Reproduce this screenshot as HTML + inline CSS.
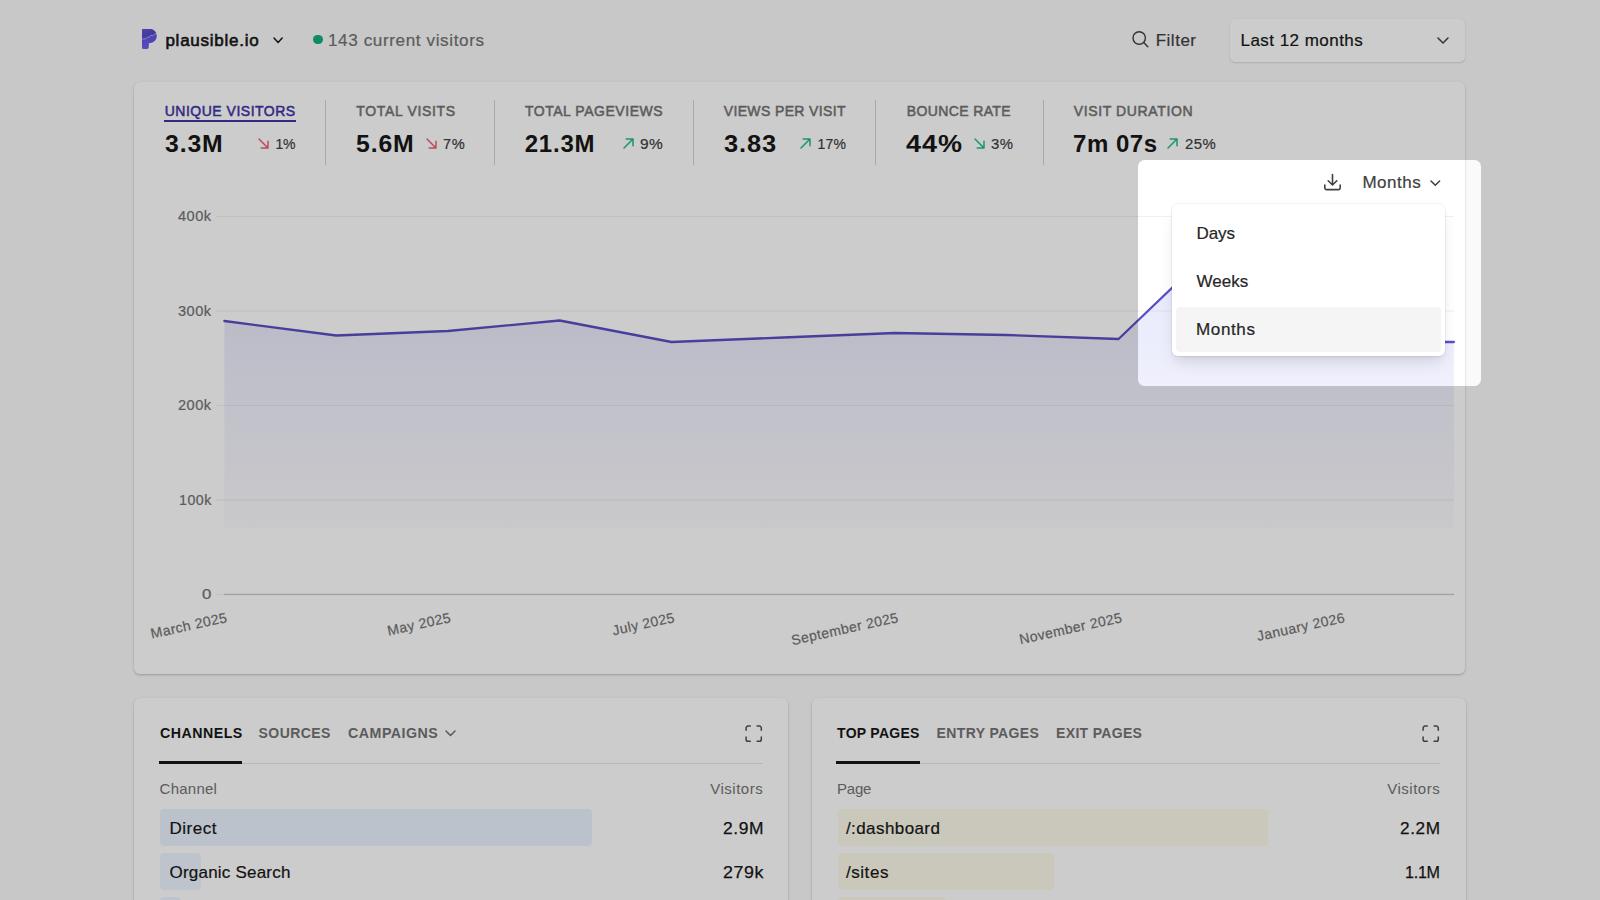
<!DOCTYPE html>
<html lang="en">
<head>
<meta charset="utf-8">
<title>plausible.io · Plausible Analytics</title>
<style>
*{box-sizing:border-box;margin:0;padding:0}
html,body{width:1600px;height:900px;overflow:hidden}
body{background:#fafafa;font-family:"Liberation Sans", Arial, sans-serif;color:#171717;position:relative}
.t{position:absolute;white-space:pre;line-height:1}
.r,.i{position:absolute;display:block}
.i{overflow:visible}
.card{position:absolute;background:#fff;border-radius:6px;box-shadow:0 1px 3px rgba(0,0,0,.13),0 1px 2px rgba(0,0,0,.12)}
.xl{transform-origin:100% 50%;transform:rotate(-12.3deg)}
.spot{position:absolute;left:1137.600px;top:160px;width:343.600px;height:225.500px;border-radius:6.500px;box-shadow:0 0 0 3000px rgba(0,0,0,.2);pointer-events:none}
</style>
</head>
<body>
<svg class="i" style="left:141px;top:28px" width="17" height="22" viewBox="0 0 17 22"><defs><linearGradient id="lg1" x1="0" y1="0" x2="0" y2="1"><stop offset="0" stop-color="#5b4dd2"/><stop offset="1" stop-color="#6e5ff0"/></linearGradient>
<linearGradient id="lg2" x1="0" y1="0" x2="1" y2="1"><stop offset="0" stop-color="#6255d6"/><stop offset="1" stop-color="#4a3eb6"/></linearGradient>
<clipPath id="pc"><path d="M2.300 1H8.700a7.100 7.100 0 0 1 0 14.200H7.800v3.200A2.600 2.600 0 0 1 5.200 21H2.300A1.300 1.300 0 0 1 1 19.700V2.300A1.300 1.300 0 0 1 2.300 1z"/></clipPath></defs>
<path d="M2.300 1H8.700a7.100 7.100 0 0 1 0 14.200H7.800v3.200A2.600 2.600 0 0 1 5.200 21H2.300A1.300 1.300 0 0 1 1 19.700V2.300A1.300 1.300 0 0 1 2.300 1z" fill="url(#lg1)"/>
<g clip-path="url(#pc)"><path d="M0 0H17V4.200L15.500 4.800 13.500 6.400 11.500 7.700 9.700 7.400 8 9.400 6.400 9.200 4.600 10.900 2.600 10.600 0 12.200z" fill="url(#lg2)"/>
<path d="M0 12.200L2.600 10.600 4.600 10.900 6.400 9.200 8 9.400 9.700 7.400 11.500 7.700 13.500 6.400 15.500 4.800 17 4.200" fill="none" stroke="#b3adf5" stroke-width="1" stroke-linejoin="round"/></g></svg>
<div class="t" style="left:165.39px;top:31.91px;font-size:17px;color:#171717;letter-spacing:0.760px;-webkit-text-stroke:0.6px #171717;">plausible.io</div>
<svg class="i" style="left:272.4px;top:35.9px" width="12.2" height="8.5" viewBox="0 0 12.2 8.5"><path d="M2 2l4.1 4.5 4.1-4.5" fill="none" stroke="#171717" stroke-width="1.5" stroke-linecap="round" stroke-linejoin="round"/></svg>
<div class="r" style="left:313.2px;top:34.9px;width:9.4px;height:9.4px;background:#12b17c;border-radius:50%"></div>
<div class="t" style="left:327.79px;top:31.91px;font-size:17px;color:#737373;letter-spacing:0.595px;transform:scaleX(1.0070);transform-origin:0 50%;-webkit-text-stroke:0.2px #737373;">143 current visitors</div>
<svg class="i" style="left:1131px;top:30px" width="18" height="18" viewBox="0 0 18 18"><circle cx="8.200" cy="8" r="6.200" fill="none" stroke="#404040" stroke-width="1.400"/><path d="M12.700 12.500L16.800 16.700" stroke="#404040" stroke-width="1.400" stroke-linecap="round"/></svg>
<div class="t" style="left:1155.69px;top:31.91px;font-size:17px;color:#404040;letter-spacing:0.508px;-webkit-text-stroke:0.2px #404040;">Filter</div>
<div class="card" style="left:1229.500px;top:18.500px;width:235.500px;height:43px;border-radius:5px;box-shadow:0 1px 2px rgba(0,0,0,.13),0 0 1px rgba(0,0,0,.08)"></div>
<div class="t" style="left:1240.49px;top:31.91px;font-size:17px;color:#171717;letter-spacing:0.467px;-webkit-text-stroke:0.2px #171717;">Last 12 months</div>
<svg class="i" style="left:1436px;top:35.5px" width="14" height="9" viewBox="0 0 14 9"><path d="M2 2l5 5 5-5" fill="none" stroke="#404040" stroke-width="1.5" stroke-linecap="round" stroke-linejoin="round"/></svg>
<div class="card" style="left:134.400px;top:82px;width:1331.100px;height:591.500px"></div>
<div class="r" style="left:325.0px;top:100px;width:1px;height:65px;background:#d4d4d4;"></div>
<div class="r" style="left:493.5px;top:100px;width:1px;height:65px;background:#d4d4d4;"></div>
<div class="r" style="left:692.5px;top:100px;width:1px;height:65px;background:#d4d4d4;"></div>
<div class="r" style="left:875.0px;top:100px;width:1px;height:65px;background:#d4d4d4;"></div>
<div class="r" style="left:1042.8px;top:100px;width:1px;height:65px;background:#d4d4d4;"></div>
<div class="t" style="left:164.68px;top:103.55px;font-size:14px;color:#3f34a3;letter-spacing:0.507px;-webkit-text-stroke:0.5px #3f34a3;">UNIQUE VISITORS</div>
<div class="r" style="left:164px;top:120px;width:131.6px;height:1.5px;background:#3f34a3;"></div>
<div class="t" style="left:165.08px;top:131.88px;font-size:24px;font-weight:700;color:#171717;letter-spacing:0.840px;transform:scaleX(1.0315);transform-origin:0 50%;">3.3M</div>
<div class="t" style="left:275.48px;top:137.05px;font-size:14px;color:#404040;letter-spacing:-0.194px;-webkit-text-stroke:0.2px #404040;">1%</div>
<svg class="i" style="left:258.3px;top:137.9px" width="11" height="11" viewBox="0 0 11 11"><path d="M1 1l9 9M10 3.200V10H3.200" fill="none" stroke="#ec5f78" stroke-width="1.500" stroke-linecap="round" stroke-linejoin="round"/></svg>
<div class="t" style="left:356.18px;top:103.55px;font-size:14px;color:#737373;letter-spacing:0.672px;-webkit-text-stroke:0.5px #737373;">TOTAL VISITS</div>
<div class="t" style="left:356.28px;top:131.88px;font-size:24px;font-weight:700;color:#171717;letter-spacing:0.840px;transform:scaleX(1.0333);transform-origin:0 50%;">5.6M</div>
<div class="t" style="left:442.58px;top:137.05px;font-size:14px;color:#404040;letter-spacing:0.490px;transform:scaleX(1.0442);transform-origin:0 50%;-webkit-text-stroke:0.2px #404040;">7%</div>
<svg class="i" style="left:425.5px;top:137.9px" width="11" height="11" viewBox="0 0 11 11"><path d="M1 1l9 9M10 3.200V10H3.200" fill="none" stroke="#ec5f78" stroke-width="1.500" stroke-linecap="round" stroke-linejoin="round"/></svg>
<div class="t" style="left:524.88px;top:103.55px;font-size:14px;color:#737373;letter-spacing:0.539px;-webkit-text-stroke:0.5px #737373;">TOTAL PAGEVIEWS</div>
<div class="t" style="left:524.78px;top:131.88px;font-size:24px;font-weight:700;color:#171717;letter-spacing:0.759px;">21.3M</div>
<div class="t" style="left:640.08px;top:137.05px;font-size:14px;color:#404040;letter-spacing:0.490px;transform:scaleX(1.1021);transform-origin:0 50%;-webkit-text-stroke:0.2px #404040;">9%</div>
<svg class="i" style="left:623.0px;top:137.9px" width="11" height="11" viewBox="0 0 11 11"><path d="M1 10l9-9M3.200 1H10v6.800" fill="none" stroke="#22bb86" stroke-width="1.500" stroke-linecap="round" stroke-linejoin="round"/></svg>
<div class="t" style="left:723.68px;top:103.55px;font-size:14px;color:#737373;letter-spacing:0.374px;-webkit-text-stroke:0.5px #737373;">VIEWS PER VISIT</div>
<div class="t" style="left:723.58px;top:131.88px;font-size:24px;font-weight:700;color:#171717;letter-spacing:0.840px;transform:scaleX(1.0589);transform-origin:0 50%;">3.83</div>
<div class="t" style="left:817.58px;top:137.05px;font-size:14px;color:#404040;letter-spacing:0.154px;-webkit-text-stroke:0.2px #404040;">17%</div>
<svg class="i" style="left:799.7px;top:137.9px" width="11" height="11" viewBox="0 0 11 11"><path d="M1 10l9-9M3.200 1H10v6.800" fill="none" stroke="#22bb86" stroke-width="1.500" stroke-linecap="round" stroke-linejoin="round"/></svg>
<div class="t" style="left:906.68px;top:103.55px;font-size:14px;color:#737373;letter-spacing:0.385px;-webkit-text-stroke:0.5px #737373;">BOUNCE RATE</div>
<div class="t" style="left:906.08px;top:131.88px;font-size:24px;font-weight:700;color:#171717;letter-spacing:0.840px;transform:scaleX(1.1249);transform-origin:0 50%;">44%</div>
<div class="t" style="left:990.88px;top:137.05px;font-size:14px;color:#404040;letter-spacing:0.490px;transform:scaleX(1.0635);transform-origin:0 50%;-webkit-text-stroke:0.2px #404040;">3%</div>
<svg class="i" style="left:973.5px;top:137.9px" width="11" height="11" viewBox="0 0 11 11"><path d="M1 1l9 9M10 3.200V10H3.200" fill="none" stroke="#22bb86" stroke-width="1.500" stroke-linecap="round" stroke-linejoin="round"/></svg>
<div class="t" style="left:1073.68px;top:103.55px;font-size:14px;color:#737373;letter-spacing:0.632px;-webkit-text-stroke:0.5px #737373;">VISIT DURATION</div>
<div class="t" style="left:1073.08px;top:131.88px;font-size:24px;font-weight:700;color:#171717;letter-spacing:0.507px;">7m 07s</div>
<div class="t" style="left:1185.08px;top:137.05px;font-size:14px;color:#404040;letter-spacing:0.490px;transform:scaleX(1.0630);transform-origin:0 50%;-webkit-text-stroke:0.2px #404040;">25%</div>
<svg class="i" style="left:1167.2px;top:137.9px" width="11" height="11" viewBox="0 0 11 11"><path d="M1 10l9-9M3.200 1H10v6.800" fill="none" stroke="#22bb86" stroke-width="1.500" stroke-linecap="round" stroke-linejoin="round"/></svg>
<svg class="i" style="left:0px;top:0px" width="1600" height="680" viewBox="0 0 1600 680"><defs><linearGradient id="ag" gradientUnits="userSpaceOnUse" x1="0" y1="200" x2="0" y2="529"><stop offset="0" stop-color="#5d66e4" stop-opacity=".19"/><stop offset=".994" stop-color="#5d66e4" stop-opacity=".022"/><stop offset="1" stop-color="#5d66e4" stop-opacity="0"/></linearGradient></defs><rect x="216" y="216.0" width="1238" height="1" fill="#f0f0f0"/><rect x="216" y="310.5" width="1238" height="1" fill="#f0f0f0"/><rect x="216" y="405.0" width="1238" height="1" fill="#f0f0f0"/><rect x="216" y="499.5" width="1238" height="1" fill="#f0f0f0"/><rect x="216" y="594" width="8" height="1" fill="#f0f0f0"/><rect x="224" y="593.800" width="1230" height="1.300" fill="#c8c8c8"/><path d="M224.4 321 L336.2 335.5 L447.9 331 L559.7 320.5 L671.5 342 L783.2 337.5 L895.0 333 L1006.8 335 L1118.6 339 L1230.3 232 L1342.1 342 L1453.9 342 L1453.9 594.500 L224.4 594.500 Z" fill="url(#ag)"/><path d="M224.4 321 L336.2 335.5 L447.9 331 L559.7 320.5 L671.5 342 L783.2 337.5 L895.0 333 L1006.8 335 L1118.6 339 L1230.3 232 L1342.1 342 L1453.9 342" fill="none" stroke="#5a4ec4" stroke-width="2.300" stroke-linejoin="round" stroke-linecap="round"/></svg>
<div class="t" style="left:178.28px;top:209.35px;font-size:14px;color:#737373;letter-spacing:0.490px;transform:scaleX(1.0412);transform-origin:0 50%;-webkit-text-stroke:0.2px #737373;">400k</div>
<div class="t" style="left:178.28px;top:303.85px;font-size:14px;color:#737373;letter-spacing:0.490px;transform:scaleX(1.0412);transform-origin:0 50%;-webkit-text-stroke:0.2px #737373;">300k</div>
<div class="t" style="left:178.28px;top:398.35px;font-size:14px;color:#737373;letter-spacing:0.490px;transform:scaleX(1.0412);transform-origin:0 50%;-webkit-text-stroke:0.2px #737373;">200k</div>
<div class="t" style="left:179.08px;top:492.85px;font-size:14px;color:#737373;letter-spacing:0.490px;transform:scaleX(1.0160);transform-origin:0 50%;-webkit-text-stroke:0.2px #737373;">100k</div>
<div class="t" style="left:202.08px;top:587.35px;font-size:14px;color:#737373;letter-spacing:0.490px;transform:scaleX(1.1979);transform-origin:0 50%;-webkit-text-stroke:0.2px #737373;">0</div>
<div class="t xl" style="right:1372.8px;top:609.500px;font-size:14px;letter-spacing:.4px;color:#737373;-webkit-text-stroke:.2px #737373">March 2025</div>
<div class="t xl" style="right:1149.3px;top:609.500px;font-size:14px;letter-spacing:.4px;color:#737373;-webkit-text-stroke:.2px #737373">May 2025</div>
<div class="t xl" style="right:925.7px;top:609.500px;font-size:14px;letter-spacing:.4px;color:#737373;-webkit-text-stroke:.2px #737373">July 2025</div>
<div class="t xl" style="right:702.2px;top:609.500px;font-size:14px;letter-spacing:.4px;color:#737373;-webkit-text-stroke:.2px #737373">September 2025</div>
<div class="t xl" style="right:478.6px;top:609.500px;font-size:14px;letter-spacing:.4px;color:#737373;-webkit-text-stroke:.2px #737373">November 2025</div>
<div class="t xl" style="right:255.1px;top:609.500px;font-size:14px;letter-spacing:.4px;color:#737373;-webkit-text-stroke:.2px #737373">January 2026</div>
<div class="card" style="left:134.400px;top:698px;width:653.600px;height:260px"></div>
<div class="card" style="left:811.500px;top:698px;width:654px;height:260px"></div>
<div class="t" style="left:159.58px;top:725.55px;font-size:14px;font-weight:700;color:#171717;letter-spacing:0.490px;transform:scaleX(1.0139);transform-origin:0 50%;">CHANNELS</div>
<div class="t" style="left:258.58px;top:725.55px;font-size:14px;font-weight:700;color:#737373;letter-spacing:0.434px;">SOURCES</div>
<div class="t" style="left:347.58px;top:725.55px;font-size:14px;font-weight:700;color:#737373;letter-spacing:0.490px;transform:scaleX(1.0157);transform-origin:0 50%;">CAMPAIGNS</div>
<svg class="i" style="left:443.5px;top:728.5px" width="13" height="8.5" viewBox="0 0 13 8.5"><path d="M2 2l4.5 4.5 4.5-4.5" fill="none" stroke="#737373" stroke-width="1.5" stroke-linecap="round" stroke-linejoin="round"/></svg>
<div class="t" style="left:837.08px;top:725.55px;font-size:14px;font-weight:700;color:#171717;letter-spacing:0.275px;">TOP PAGES</div>
<div class="t" style="left:936.58px;top:725.55px;font-size:14px;font-weight:700;color:#737373;letter-spacing:0.379px;">ENTRY PAGES</div>
<div class="t" style="left:1056.08px;top:725.55px;font-size:14px;font-weight:700;color:#737373;letter-spacing:0.317px;">EXIT PAGES</div>
<div class="r" style="left:160px;top:763px;width:603px;height:1px;background:#e5e5e5;"></div>
<div class="r" style="left:159.3px;top:761.2px;width:82.7px;height:2.6px;background:#171717;"></div>
<div class="r" style="left:837px;top:763px;width:603px;height:1px;background:#e5e5e5;"></div>
<div class="r" style="left:836.3px;top:761.2px;width:83.7px;height:2.6px;background:#171717;"></div>
<svg class="i" style="left:745px;top:724.7px" width="17.4" height="17.4" viewBox="0 0 17.4 17.4"><path d="M1.100 5.300V3a1.900 1.900 0 0 1 1.900-1.900h2.300M12.100 1.100h2.300A1.900 1.900 0 0 1 16.300 3v2.300M16.300 12.100v2.300a1.900 1.900 0 0 1-1.900 1.900h-2.300M5.300 16.300H3a1.900 1.900 0 0 1-1.900-1.900v-2.300" fill="none" stroke="#525252" stroke-width="1.500" stroke-linecap="round" stroke-linejoin="round"/></svg>
<svg class="i" style="left:1422px;top:724.7px" width="17.4" height="17.4" viewBox="0 0 17.4 17.4"><path d="M1.100 5.300V3a1.900 1.900 0 0 1 1.900-1.900h2.300M12.100 1.100h2.300A1.900 1.900 0 0 1 16.300 3v2.300M16.300 12.100v2.300a1.900 1.900 0 0 1-1.900 1.900h-2.300M5.300 16.300H3a1.900 1.900 0 0 1-1.900-1.900v-2.300" fill="none" stroke="#525252" stroke-width="1.500" stroke-linecap="round" stroke-linejoin="round"/></svg>
<div class="t" style="left:159.55px;top:781.30px;font-size:15px;color:#737373;letter-spacing:0.252px;">Channel</div>
<div class="t" style="left:710.15px;top:781.30px;font-size:15px;color:#737373;letter-spacing:0.525px;">Visitors</div>
<div class="t" style="left:837.05px;top:781.30px;font-size:15px;color:#737373;letter-spacing:-0.216px;">Page</div>
<div class="t" style="left:1387.15px;top:781.30px;font-size:15px;color:#737373;letter-spacing:0.525px;">Visitors</div>
<div class="r" style="left:159.5px;top:808.5px;width:432.3px;height:37.5px;background:#eaf3fe;border-radius:4px"></div>
<div class="t" style="left:169.49px;top:819.91px;font-size:17px;color:#171717;letter-spacing:0.503px;-webkit-text-stroke:0.2px #171717;">Direct</div>
<div class="t" style="left:722.99px;top:819.91px;font-size:17px;color:#171717;letter-spacing:0.595px;transform:scaleX(1.0237);transform-origin:0 50%;-webkit-text-stroke:0.25px #171717;">2.9M</div>
<div class="r" style="left:159.5px;top:852.5px;width:41px;height:37.5px;background:#eef5fe;border-radius:4px"></div>
<div class="t" style="left:169.49px;top:863.91px;font-size:17px;color:#171717;letter-spacing:0.215px;-webkit-text-stroke:0.2px #171717;">Organic Search</div>
<div class="t" style="left:722.99px;top:863.91px;font-size:17px;color:#171717;letter-spacing:0.595px;transform:scaleX(1.0481);transform-origin:0 50%;-webkit-text-stroke:0.25px #171717;">279k</div>
<div class="r" style="left:159.5px;top:896.5px;width:21px;height:37.5px;background:#eef5fe;border-radius:4px"></div>
<div class="r" style="left:837.5px;top:808.5px;width:430px;height:37.5px;background:#fdfaea;border-radius:4px"></div>
<div class="t" style="left:845.99px;top:819.91px;font-size:17px;color:#171717;letter-spacing:0.412px;-webkit-text-stroke:0.2px #171717;">/:dashboard</div>
<div class="t" style="left:1400.49px;top:819.91px;font-size:17px;color:#171717;letter-spacing:0.595px;transform:scaleX(1.0111);transform-origin:0 50%;-webkit-text-stroke:0.25px #171717;">2.2M</div>
<div class="r" style="left:837.5px;top:852.5px;width:216px;height:37.5px;background:#fdfaea;border-radius:4px"></div>
<div class="t" style="left:845.99px;top:863.91px;font-size:17px;color:#171717;letter-spacing:0.546px;-webkit-text-stroke:0.2px #171717;">/sites</div>
<div class="t" style="left:1405.49px;top:863.91px;font-size:17px;color:#171717;letter-spacing:-0.298px;transform:scaleX(0.9489);transform-origin:0 50%;-webkit-text-stroke:0.25px #171717;">1.1M</div>
<div class="r" style="left:837.5px;top:896.5px;width:108px;height:37.5px;background:#fdfaea;border-radius:4px"></div>
<svg class="i" style="left:1323px;top:173px" width="19" height="19" viewBox="0 0 19 19"><path d="M9.500 1.500v10M5.200 7.800l4.300 4.200 4.300-4.200M1.800 12v2.800a1.800 1.800 0 0 0 1.800 1.800h11.800a1.800 1.800 0 0 0 1.800-1.800V12" fill="none" stroke="#404040" stroke-width="1.600" stroke-linecap="round" stroke-linejoin="round"/></svg>
<div class="t" style="left:1362.39px;top:174.31px;font-size:17px;color:#404040;letter-spacing:0.534px;-webkit-text-stroke:0.2px #404040;">Months</div>
<svg class="i" style="left:1429.3px;top:179px" width="12.6" height="8.3" viewBox="0 0 12.6 8.3"><path d="M2 2l4.3 4.3 4.3-4.3" fill="none" stroke="#404040" stroke-width="1.5" stroke-linecap="round" stroke-linejoin="round"/></svg>
<div class="r" style="left:1172px;top:204px;width:273px;height:152px;background:#fff;border-radius:6px;box-shadow:0 10px 15px -3px rgba(0,0,0,.1),0 4px 6px -2px rgba(0,0,0,.05),0 0 0 1px rgba(0,0,0,.05)"></div>
<div class="r" style="left:1175.5px;top:307px;width:265px;height:45px;background:#f5f5f5;border-radius:4px"></div>
<div class="t" style="left:1196.49px;top:224.91px;font-size:17px;color:#262626;letter-spacing:-0.105px;-webkit-text-stroke:0.2px #262626;">Days</div>
<div class="t" style="left:1196.49px;top:272.91px;font-size:17px;color:#262626;letter-spacing:0.041px;-webkit-text-stroke:0.2px #262626;">Weeks</div>
<div class="t" style="left:1196.49px;top:320.91px;font-size:17px;color:#262626;letter-spacing:0.595px;transform:scaleX(1.0050);transform-origin:0 50%;-webkit-text-stroke:0.2px #262626;">Months</div>
<div class="spot"></div>
</body>
</html>
